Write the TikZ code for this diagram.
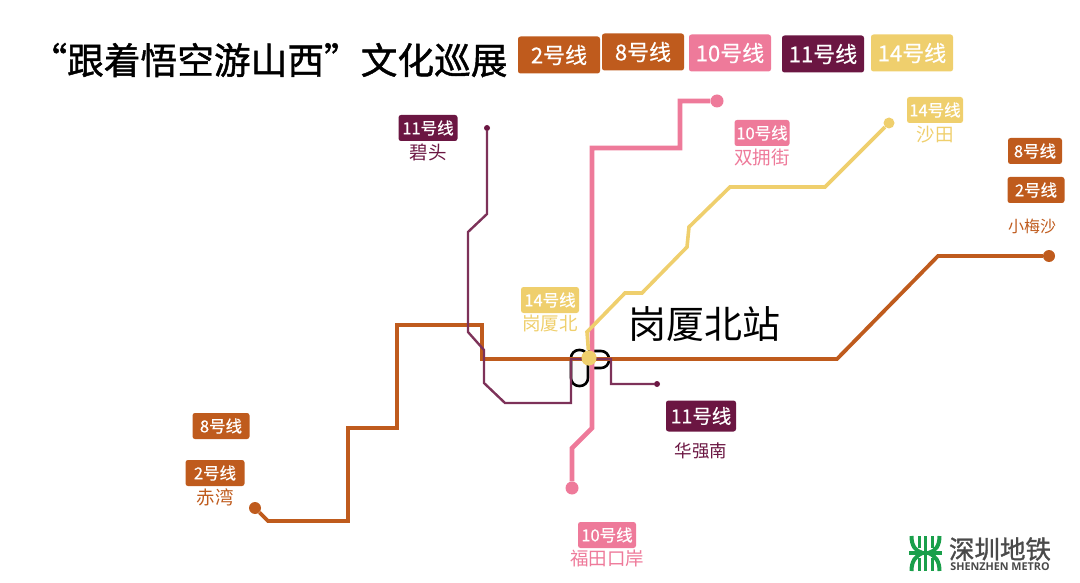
\documentclass[tikz,border=0pt]{standalone}
\usepackage{fontspec}
\setmainfont{Noto Sans CJK SC}
\newfontfamily\mediumfont[FakeBold=0.5]{Noto Sans CJK SC}
\newfontfamily\heavyfont[FakeBold=1.2]{Noto Sans CJK SC}
\newfontfamily\latinfont{Open Sans}
\usetikzlibrary{positioning}
\definecolor{lineOrange}{HTML}{BF5B1D}
\definecolor{linePink}{HTML}{EE7A9A}
\definecolor{linePurple}{HTML}{6B1642}
\definecolor{lineYellow}{HTML}{EFCF6D}
\definecolor{metroGreen}{HTML}{1A9F4B}
\definecolor{metroGray}{HTML}{4A4A4A}
\tikzset{
    lineTag/.style={fill=#1, text=white, rounded corners=2.5pt, minimum height=26pt, inner sep=0pt, font=\mediumfont\fontsize{16.5}{16.5}\selectfont},
    headTag/.style={lineTag=#1, minimum width=82pt, minimum height=37pt, font=\mediumfont\fontsize{22}{22}\selectfont},
    stationName/.style={text=#1, inner sep=0pt, font=\fontsize{18.5}{18.5}\selectfont},
    lineDot/.style={circle, fill=#1, inner sep=0pt},
}
\begin{document}
\begin{tikzpicture}[x=1pt, y=-1pt]
    \useasboundingbox (0,0) rectangle (1080,583);

    % Title
    \node[font=\heavyfont\fontsize{36.7}{36.7}\selectfont, inner sep=0pt] (title) at (269,60) {“跟着悟空游山西”文化巡展};

    % Legend
    \node[headTag=lineOrange] (headTwo) at (559,55) {2号线};
    \node[headTag=lineOrange] (headEight) at (643,52) {8号线};
    \node[headTag=linePink] (headTen) at (730,53) {10号线};
    \node[headTag=linePurple] (headEleven) at (823,54) {11号线};
    \node[headTag=lineYellow] (headFourteen) at (912,53) {14号线};

    % Transfer symbol
    \draw[black, line width=2.6pt, fill=white!96!gray, rounded corners=8pt] (571,350) rectangle (588,386);
    \draw[black, line width=2.6pt, rounded corners=8pt] (588,351) -- (609,351) -- (609,368) -- (593,368);

    % Terminals
    \node[lineDot=lineOrange, minimum size=12pt] (chiwan) at (255,508) {};
    \node[lineDot=lineOrange, minimum size=12pt] (xiaomeisha) at (1049,256) {};
    \node[lineDot=linePink, minimum size=13pt] (futian) at (572,488) {};
    \node[lineDot=linePink, minimum size=13pt] (shuangyong) at (717,101) {};
    \node[lineDot=linePurple, minimum size=6pt] (bitou) at (487,128) {};
    \node[lineDot=linePurple, minimum size=6pt] (huaqiang) at (657,384) {};
    \node[lineDot=lineYellow, minimum size=11pt] (shatian) at (889,123) {};
    \node[lineDot=lineYellow, minimum size=15pt] (gangxia) at (589,358) {};

    % Line 2 and line 8
    \draw[lineOrange, line width=3.8pt] (chiwan) -- (268,521) -- (348,521) -- (348,428) -- (397,428) -- (397,325) -- (482,325) -- (482,359) -- (837,359) -- (938,256) -- (xiaomeisha);

    % Line 11
    \draw[linePurple!88!white, line width=2.4pt] (bitou) -- (487,214) -- (468,232) -- (468,332) -- (484,350) -- (484,383) -- (505,403) -- (571,403) -- (571,359) -- (611,359) -- (611,384) -- (huaqiang);

    % Line 10
    \draw[linePink, line width=4.6pt] (futian) -- (572,448) -- (592,428) -- (592,148) -- (680,148) -- (680,101) -- (shuangyong);

    % Line 14
    \draw[lineYellow, line width=3.6pt] (gangxia) -- (587,332) -- (625,293) -- (642,293) -- (687,247) -- (689,227) -- (730,187) -- (825,187) -- (shatian);
    \node[lineDot=lineYellow, minimum size=15pt] at (gangxia) {};

    % Station tags
    \node[lineTag=linePurple, minimum width=59pt] (tagBitou) at (428,128) {11号线};
    \node[stationName=linePurple, below=3pt of tagBitou] (nameBitou) {碧头};
    \node[lineTag=linePink, minimum width=55pt] (tagShuangyong) at (762,133) {10号线};
    \node[stationName=linePink, below=3pt of tagShuangyong] (nameShuangyong) {双拥街};
    \node[lineTag=lineYellow, minimum width=56pt] (tagShatian) at (935,110) {14号线};
    \node[stationName=lineYellow, below=3pt of tagShatian] (nameShatian) {沙田};
    \node[lineTag=lineOrange, minimum width=54pt] (tagEightEast) at (1035,151) {8号线};
    \node[lineTag=lineOrange, minimum width=57pt] (tagTwoEast) at (1036,190) {2号线};
    \node[stationName=lineOrange, font=\fontsize{16}{16}\selectfont] (nameXiaomeisha) at (1032,226) {小梅沙};
    \node[lineTag=lineYellow, minimum width=58pt] (tagGangxia) at (550,300) {14号线};
    \node[stationName=lineYellow, below=2pt of tagGangxia] (nameGangxia) {岗厦北};
    \node[lineTag=linePurple, minimum width=70pt, minimum height=31pt, font=\mediumfont\fontsize{19.5}{19.5}\selectfont] (tagHuaqiang) at (701,416) {11号线};
    \node[stationName=linePurple, font=\fontsize{17.5}{17.5}\selectfont] (nameHuaqiang) at (701,451) {华强南};
    \node[lineTag=lineOrange, minimum width=57pt] (tagEightWest) at (221,426) {8号线};
    \node[lineTag=lineOrange, minimum width=59pt] (tagTwoWest) at (215,473) {2号线};
    \node[stationName=lineOrange, below=2pt of tagTwoWest] (nameChiwan) {赤湾};
    \node[lineTag=linePink, minimum width=58pt] (tagFutian) at (607,535) {10号线};
    \node[stationName=linePink, below=2pt of tagFutian] (nameFutian) {福田口岸};

    % Main station name
    \node[font=\fontsize{38}{38}\selectfont, inner sep=0pt] (mainStation) at (704,324) {岗厦北站};

    % Logo
    \foreach \s in {-1,1} {
        \draw[metroGreen, line width=4pt] (925.5+\s*14,536) .. controls (925.5+\s*14,546) and (925.5+\s*10,551) .. (925.5+\s*3,553);
        \draw[metroGreen, line width=4pt] (925.5+\s*14,571) .. controls (925.5+\s*14,561) and (925.5+\s*10,556) .. (925.5+\s*3,553);
        \draw[metroGreen, line width=3pt] (925.5+\s*6.5,536) -- (925.5+\s*6.5,548);
        \draw[metroGreen, line width=3pt] (925.5+\s*6.5,558) -- (925.5+\s*6.5,571);
    }
    \draw[metroGreen, line width=3.4pt] (925.5,536) -- (925.5,571);
    \draw[metroGreen, line width=3.4pt] (909,553) -- (942,553);
    \node[text=metroGray, font=\heavyfont\fontsize{25.5}{25.5}\selectfont, inner sep=0pt] (logoName) at (1000,549) {深圳地铁};
    \node[text=metroGray, font=\latinfont\fontsize{10.8}{10.8}\selectfont\bfseries, inner sep=0pt] (logoLatin) at (1000,567) {SHENZHEN METRO};
\end{tikzpicture}
\end{document}
